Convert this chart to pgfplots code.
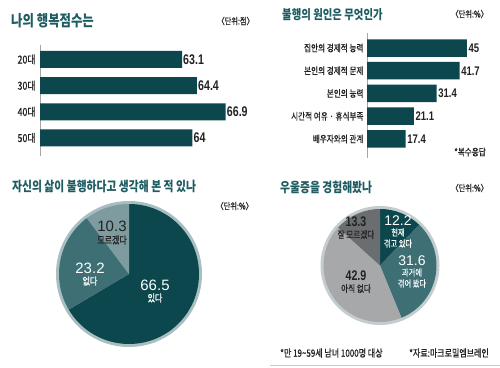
\documentclass[border=0pt]{standalone}
\usepackage{fontspec}
\usepackage{pgfplots}
\pgfplotsset{compat=1.18}
\setmainfont{Noto Sans CJK KR}
\newfontfamily\krt[FakeStretch=0.8]{Noto Sans CJK KR}
\newfontfamily\krn[FakeStretch=0.8]{Noto Sans CJK KR}
\newfontfamily\krm[FakeStretch=0.8, FakeBold=0.7]{Noto Sans CJK KR}
\newfontfamily\numc[FakeStretch=0.76]{Liberation Sans}
\newfontfamily\numr{Liberation Sans}
\definecolor{dteal}{HTML}{0B474C}
\definecolor{mteal}{HTML}{3D6F74}
\definecolor{lteal}{HTML}{7E9CA0}
\definecolor{lgray}{HTML}{A6A8A9}
\definecolor{dgray}{HTML}{6B6E71}
\definecolor{ttl}{HTML}{1D5C62}
\definecolor{txt}{HTML}{222222}
\definecolor{rimL}{HTML}{A9BEC1}
\definecolor{rimR}{HTML}{C3CDCF}
\tikzset{pl/.style={inner sep=0pt}}
\begin{document}
\begin{tikzpicture}
\path[use as bounding box, fill=white] (0pt,0pt) rectangle (500pt,367pt);

% ---------- top left bars ----------
\begin{axis}[
  at={(40pt,211pt)}, anchor=south west,
  scale only axis, width=210pt, height=111pt,
  xmin=50.75, xmax=69.01, ymin=0.45, ymax=4.69, y dir=reverse,
  axis x line=none, axis y line=left,
  y axis line style={-, draw=gray!70, line width=1pt},
  ytick={1,2,3,4}, yticklabels={20대,30대,40대,50대},
  major tick length=0pt,
  yticklabel style={font=\krm\fontsize{11}{11}\selectfont, text=txt, xshift=-1pt},
  point meta=x,
  /pgf/number format/assume math mode=true,
  nodes near coords,
  nodes near coords style={font=\numc\bfseries\fontsize{14}{14}\selectfont, text=txt, inner sep=1pt},
]
\addplot[xbar, fill=dteal, draw=none, bar width=17pt] coordinates {(63.1,1) (64.4,2) (66.9,3) (64,4)};
\end{axis}

% ---------- top right bars ----------
\begin{axis}[
  at={(367pt,209pt)}, anchor=south west,
  scale only axis, width=125pt, height=125pt,
  xmin=0, xmax=56.3, ymin=0.34, ymax=5.84, y dir=reverse,
  axis x line=none, axis y line=left,
  y axis line style={-, draw=gray!70, line width=1pt},
  ytick={1,2,3,4,5},
  yticklabels={집안의 경제적 능력,본인의 경제적 문제,본인의 능력,시간적 여유 · 휴식부족,배우자와의 관계},
  major tick length=0pt,
  yticklabel style={font=\krm\fontsize{9.5}{10}\selectfont, text=txt},
  point meta=x,
  /pgf/number format/assume math mode=true,
  nodes near coords,
  nodes near coords style={font=\numc\bfseries\fontsize{12.5}{13}\selectfont, text=txt, inner sep=1.5pt},
]
\addplot[xbar, fill=dteal, draw=none, bar width=17.5pt] coordinates {(45,1) (41.7,2) (31.4,3) (21.1,4) (17.4,5)};
\end{axis}

% ---------- bottom left pie ----------
\begin{axis}[
  at={(129pt,93pt)}, anchor=origin, x=1pt, y=1pt,
  xmin=-80, xmax=80, ymin=-80, ymax=80, hide axis, clip=false,
]
\addplot[draw=none, forget plot] coordinates {(0,0)};
\fill[rimL] (axis cs:0,0) circle[radius=73pt];
\fill[dteal] (axis cs:0,0) -- (axis cs:0,70) arc[start angle=90, delta angle=-66.5*3.6, radius=70pt] -- cycle;
\fill[mteal] (axis cs:0,0) -- ++({90-66.5*3.6}:70pt) arc[start angle={90-66.5*3.6}, delta angle=-23.2*3.6, radius=70pt] -- cycle;
\fill[lteal] (axis cs:0,0) -- ++({90-89.7*3.6}:70pt) arc[start angle={90-89.7*3.6}, delta angle=-10.3*3.6, radius=70pt] -- cycle;
\node[pl, text=white, font=\numr\fontsize{15}{15}\selectfont] at (axis cs:26,-11) {66.5};
\node[pl, text=white, font=\krm\fontsize{10}{10}\selectfont] at (axis cs:26,-24) {있다};
\node[pl, text=white, font=\numr\fontsize{15}{15}\selectfont] at (axis cs:-39,6) {23.2};
\node[pl, text=white, font=\krm\fontsize{10}{10}\selectfont] at (axis cs:-39,-7) {없다};
\node[pl, text=txt, font=\numr\fontsize{15}{15}\selectfont] at (axis cs:-17,48) {10.3};
\node[pl, text=txt, font=\krm\fontsize{10}{10}\selectfont] at (axis cs:-17,34) {모르겠다};
\end{axis}

% ---------- bottom right pie ----------
\begin{axis}[
  at={(380pt,101.5pt)}, anchor=origin, x=1pt, y=1pt,
  xmin=-65, xmax=65, ymin=-65, ymax=65, hide axis, clip=false,
]
\addplot[draw=none, forget plot] coordinates {(0,0)};
\fill[rimR] (axis cs:0,0) circle[radius=59.5pt];
\fill[dteal] (axis cs:0,0) -- (axis cs:0,56.5) arc[start angle=90, delta angle=-12.2*3.6, radius=56.5pt] -- cycle;
\fill[mteal] (axis cs:0,0) -- ++({90-12.2*3.6}:56.5pt) arc[start angle={90-12.2*3.6}, delta angle=-31.6*3.6, radius=56.5pt] -- cycle;
\fill[lgray] (axis cs:0,0) -- ++({90-43.8*3.6}:56.5pt) arc[start angle={90-43.8*3.6}, delta angle=-42.9*3.6, radius=56.5pt] -- cycle;
\fill[dgray] (axis cs:0,0) -- ++({90-86.7*3.6}:56.5pt) arc[start angle={90-86.7*3.6}, delta angle=-13.3*3.6, radius=56.5pt] -- cycle;
\node[pl, text=white, font=\numr\fontsize{14}{14}\selectfont] at (axis cs:18,45) {12.2};
\node[pl, text=white, font=\krm\fontsize{9}{9}\selectfont] at (axis cs:18,33) {현재};
\node[pl, text=white, font=\krm\fontsize{9}{9}\selectfont] at (axis cs:18,22) {겪고 있다};
\node[pl, text=white, font=\numr\fontsize{14}{14}\selectfont] at (axis cs:32,5) {31.6};
\node[pl, text=white, font=\krm\fontsize{9}{9}\selectfont] at (axis cs:32,-7) {과거에};
\node[pl, text=white, font=\krm\fontsize{9}{9}\selectfont] at (axis cs:32,-18) {겪어 봤다};
\node[pl, text=txt, font=\numc\bfseries\fontsize{14}{14}\selectfont] at (axis cs:-24,-10) {42.9};
\node[pl, text=txt, font=\krm\fontsize{9.5}{9.5}\selectfont] at (axis cs:-24,-23) {아직 없다};
\node[pl, text=txt, font=\numc\bfseries\fontsize{14}{14}\selectfont] at (axis cs:-24,44) {13.3};
\node[pl, text=txt, font=\krm\fontsize{9.5}{9.5}\selectfont] at (axis cs:-24,31) {잘 모르겠다};
\end{axis}

% ---------- titles and notes ----------
\node[anchor=west, inner sep=0pt, text=ttl, font=\krt\bfseries\fontsize{15.5}{16}\selectfont] at (11pt,346pt) {나의 행복점수는};
\node[anchor=west, inner sep=0pt, text=ttl, font=\krt\bfseries\fontsize{13}{14}\selectfont] at (282pt,352pt) {불행의 원인은 무엇인가};
\node[anchor=west, inner sep=0pt, text=ttl, font=\krt\bfseries\fontsize{13.5}{14}\selectfont] at (12pt,181pt) {자신의 삶이 불행하다고 생각해 본 적 있나};
\node[anchor=west, inner sep=0pt, text=ttl, font=\krt\bfseries\fontsize{13.5}{14}\selectfont] at (280pt,180pt) {우울증을 경험해봤나};

\node[anchor=east, inner sep=0pt, text=txt, font=\krm\fontsize{9}{9}\selectfont] at (254pt,346pt) {〈단위:점〉};
\node[anchor=east, inner sep=0pt, text=txt, font=\krm\fontsize{9}{9}\selectfont] at (488pt,353pt) {〈단위:\%〉};
\node[anchor=east, inner sep=0pt, text=txt, font=\krm\fontsize{9}{9}\selectfont] at (253pt,161pt) {〈단위:\%〉};
\node[anchor=east, inner sep=0pt, text=txt, font=\krm\fontsize{9}{9}\selectfont] at (488pt,179pt) {〈단위:\%〉};
\node[anchor=east, inner sep=0pt, text=txt, font=\krm\fontsize{9.5}{9.5}\selectfont] at (486pt,215pt) {*복수응답};

\node[anchor=west, inner sep=0pt, text=txt, font=\krm\fontsize{10}{10}\selectfont] at (280pt,14pt) {*만 19\textasciitilde59세 남녀 1000명 대상};
\node[anchor=east, inner sep=0pt, text=txt, font=\krm\fontsize{10}{10}\selectfont] at (489pt,14pt) {*자료:마크로밀엠브레인};
\draw[gray!40, line width=0.8pt] (270pt,1.5pt) -- (500pt,1.5pt);
\end{tikzpicture}
\end{document}
